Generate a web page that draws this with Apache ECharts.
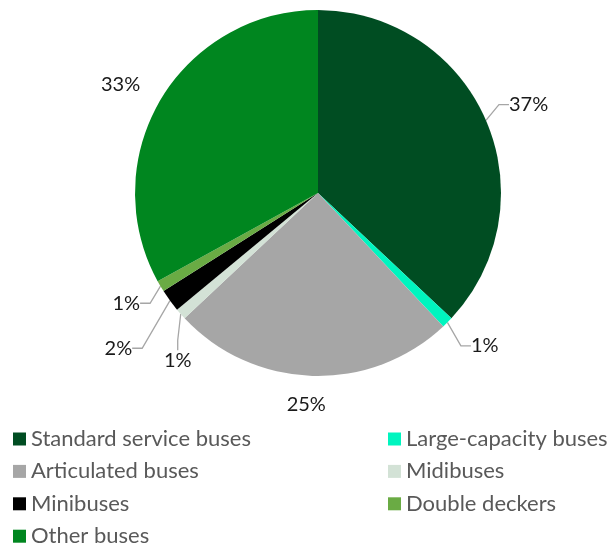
<!DOCTYPE html>
<html>
<head>
<meta charset="utf-8">
<script src="https://cdn.jsdelivr.net/npm/echarts@6/dist/echarts.min.js"></script>
<style>
  html, body { margin: 0; padding: 0; background: #ffffff; }
  #chart { width: 610px; height: 547px; }
</style>
</head>
<body>
<div id="chart"></div>
<script>
// Bus fleet composition by type (share in %)
const categories = [
  'Standard service buses',
  'Large-capacity buses',
  'Articulated buses',
  'Midibuses',
  'Minibuses',
  'Double deckers',
  'Other buses'
];
const shares = [37, 1, 25, 1, 2, 1, 33];
const colors = ['#004d22', '#00f5bf', '#a6a6a6', '#d3e2d6', '#000000', '#6aab44', '#00861f'];

const leftLegend = [categories[0], categories[2], categories[4], categories[6]];
const rightLegend = [categories[1], categories[3], categories[5]];

// Nudges for the percentage labels so the small slices stay readable
const labelNudge = [[-3, -11], [0, 15], [29, 17], [16, 24], [-23, 34], [0, 11], [5, -9]];
const showGuide = [true, true, false, true, true, true, false];

const FONT = 'Lato, "Open Sans", sans-serif';

const chart = echarts.init(document.getElementById('chart'), null, { renderer: 'canvas' });

const legendCommon = {
  orient: 'vertical',
  icon: 'rect',
  itemWidth: 13,
  itemHeight: 13,
  itemGap: 10.4,
  height: 140,
  textStyle: { fontFamily: FONT, fontSize: 22, lineHeight: 20, color: '#595959' },
  selectedMode: false,
  padding: 0
};

chart.setOption({
  backgroundColor: '#ffffff',
  color: colors,
  legend: [
    Object.assign({ left: 13, top: 428, data: leftLegend }, legendCommon),
    Object.assign({ left: 388, top: 428, data: rightLegend }, legendCommon)
  ],
  series: [{
    type: 'pie',
    center: [318, 193],
    radius: 183,
    startAngle: 90,
    clockwise: true,
    avoidLabelOverlap: true,
    itemStyle: { borderColor: '#ffffff', borderWidth: 0 },
    label: {
      show: true,
      position: 'outside',
      formatter: '{d}%',
      fontFamily: FONT,
      fontSize: 20,
      color: '#1a1a1a'
    },
    labelLine: {
      show: true,
      length: 12,
      length2: 10,
      lineStyle: { color: '#a6a6a6', width: 1.3 }
    },
    labelLayout: function (params) {
      const n = labelNudge[params.dataIndex];
      const r = params.labelRect;
      return {
        x: r.x + r.width / 2 + n[0],
        y: r.y + r.height / 2 + n[1],
        align: 'center',
        verticalAlign: 'middle'
      };
    },
    data: categories.map((name, i) => ({
      name: name,
      value: shares[i],
      labelLine: { show: showGuide[i] }
    }))
  }]
});
</script>
</body>
</html>
